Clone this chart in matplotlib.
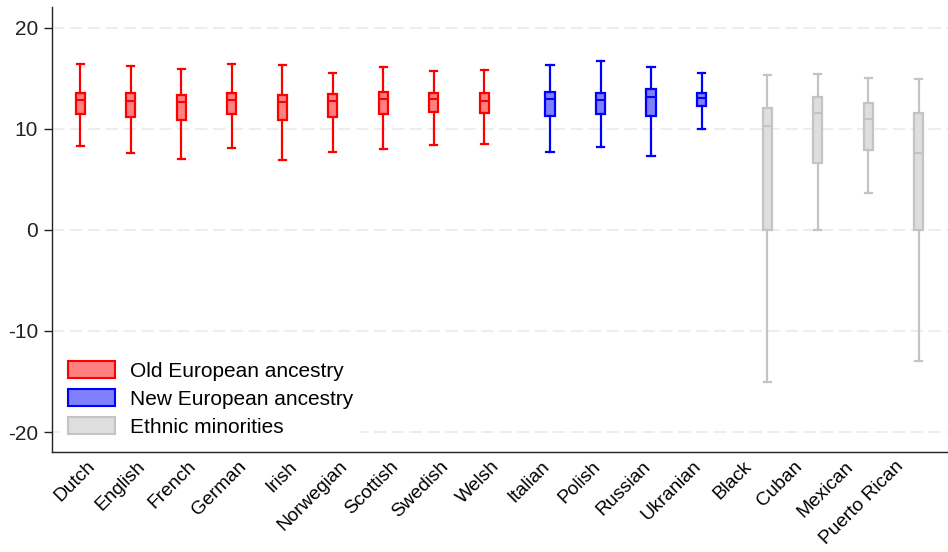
import matplotlib
matplotlib.use('Agg')
from matplotlib import pyplot as plt
from matplotlib.patches import Patch
import numpy as np

plt.rcParams['font.family'] = ['Liberation Sans', 'DejaVu Sans']
plt.rcParams['axes.unicode_minus'] = False

# Data
categories = ['Dutch', 'English', 'French', 'German', 'Irish', 'Norwegian',
              'Scottish', 'Swedish', 'Welsh', 'Italian', 'Polish', 'Russian',
              'Ukranian', 'Black', 'Cuban', 'Mexican', 'Puerto Rican']
groups = [0] * 9 + [1] * 4 + [2] * 4
group_names = ['Old European ancestry', 'New European ancestry', 'Ethnic minorities']

whisker_high = [16.4, 16.2, 15.9, 16.4, 16.3, 15.5, 16.1, 15.7, 15.8,
                16.3, 16.7, 16.1, 15.5, 15.3, 15.4, 15.0, 14.9]
upper_q = [13.5, 13.5, 13.3, 13.5, 13.3, 13.4, 13.6, 13.5, 13.5,
           13.6, 13.5, 13.9, 13.5, 12.1, 13.1, 12.5, 11.6]
medians = [12.8, 12.7, 12.6, 12.8, 12.6, 12.7, 12.9, 12.9, 12.7,
           12.9, 12.8, 13.1, 13.0, 10.3, 11.6, 11.0, 7.6]
lower_q = [11.5, 11.2, 10.9, 11.5, 10.9, 11.2, 11.5, 11.7, 11.6,
           11.3, 11.5, 11.3, 12.2, 0.0, 6.6, 7.9, 0.0]
whisker_low = [8.3, 7.6, 7.0, 8.1, 6.9, 7.7, 8.0, 8.4, 8.5,
               7.7, 8.2, 7.3, 10.0, -15.0, 0.0, 3.6, -13.0]

edge_colors = ['#ff0000', '#0000ff', '#c4c4c4']
fill_colors = ['#ff8080', '#8080ff', '#dedede']

# boxes leave a small gap between groups, labels stay evenly spaced
group_gap = 0.3
positions = np.arange(len(categories)) + group_gap * np.array(groups)
label_pos = np.linspace(0.35, 16.37, len(categories))

fig = plt.figure(figsize=(9.48, 5.52), dpi=100)
ax = fig.add_axes([0.0549, 0.1806, 0.9451, 0.806])

for g in range(3):
    idx = [i for i in range(len(categories)) if groups[i] == g]
    stats = []
    for i in idx:
        stats.append({'med': medians[i], 'q1': lower_q[i], 'q3': upper_q[i],
                      'whislo': whisker_low[i], 'whishi': whisker_high[i],
                      'label': categories[i]})
    ec = edge_colors[g]
    ax.bxp(stats, positions=positions[idx], widths=0.18, capwidths=0.14,
           patch_artist=True, showfliers=False,
           boxprops=dict(facecolor=fill_colors[g], edgecolor=ec, linewidth=1.6),
           whiskerprops=dict(color=ec, linewidth=1.6),
           capprops=dict(color=ec, linewidth=1.6),
           medianprops=dict(color=ec, linewidth=1.5))

ax.set_xlim(-0.56, 17.18)
ax.set_ylim(-22, 22)
ax.set_yticks([-20, -10, 0, 10, 20])
ax.set_xticks(label_pos)
ax.set_xticklabels(categories, rotation=45, ha='right', fontsize=13.8)
ax.tick_params(axis='x', length=0, pad=4)
ax.tick_params(axis='y', length=6, width=1, pad=4, labelsize=15, colors='#222222')

for y in [-20, -10, 0, 10, 20]:
    ax.axhline(y, color='#ededed', linewidth=1.4, dashes=(6.3, 2.9), zorder=0)

for side in ['top', 'right']:
    ax.spines[side].set_visible(False)
for side in ['left', 'bottom']:
    ax.spines[side].set_color('#222222')
    ax.spines[side].set_linewidth(1.0)

handles = [Patch(facecolor=fill_colors[g], edgecolor=edge_colors[g], linewidth=1.5)
           for g in range(3)]
leg = ax.legend(handles, group_names, loc='lower left', bbox_to_anchor=(0.009, 0.016),
                borderaxespad=0, fontsize=15, handlelength=2.25, handleheight=0.9,
                handletextpad=0.7, labelspacing=0.4, borderpad=0.4,
                frameon=True, fancybox=False, framealpha=1)
leg.get_frame().set_edgecolor('none')
leg.get_frame().set_facecolor('white')

plt.savefig('out.png', dpi=100)
